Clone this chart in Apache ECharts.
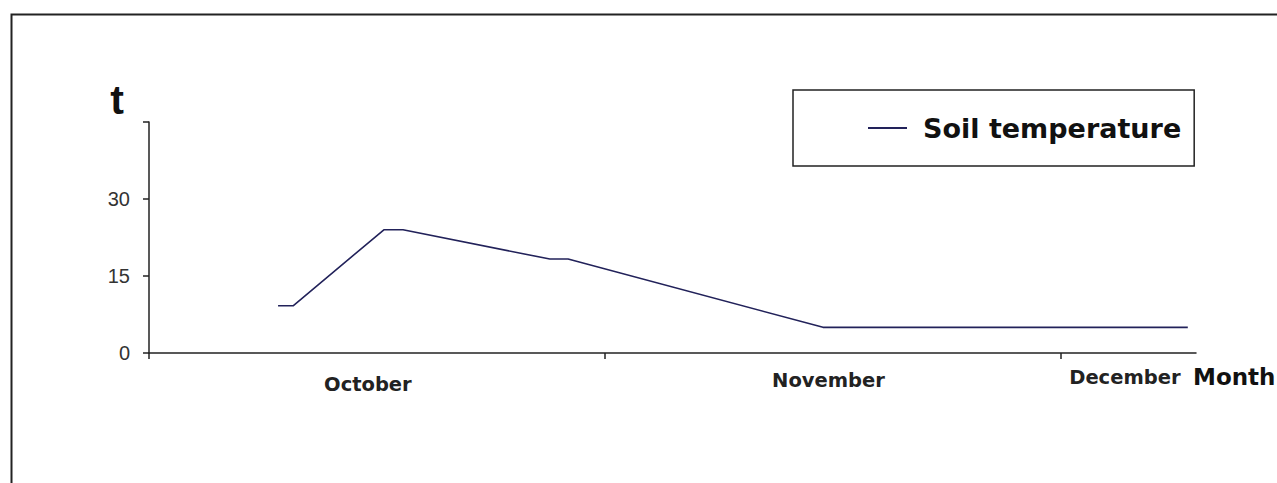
<!DOCTYPE html>
<html>
<head>
<meta charset="utf-8">
<script src="https://cdn.jsdelivr.net/npm/echarts@6/dist/echarts.min.js"></script>
<style>
html,body{margin:0;padding:0;background:#fff;}
#chart{width:1277px;height:483px;}
</style>
</head>
<body>
<div id="chart"></div>
<script>
// ---- data ----
const seriesName = 'Soil temperature';
const xValues = [0.283, 0.316, 0.515, 0.557, 0.879, 0.919, 1.478, 2.278]; // in months from start of October
const tempValues = [9.2, 9.2, 24, 24, 18.3, 18.3, 5, 5];
const monthTicks = [0, 1, 2];
const monthLabels = ['October', 'November', 'December'];
const monthLabelAt = [0.48, 1.49, 2.14];
const yTicks = [0, 15, 30, 45];
const yAxisName = 't';
const xAxisName = 'Month';

const chart = echarts.init(document.getElementById('chart'), null, {renderer: 'svg'});
const axisColor = '#222';
const labelFont = {fontFamily: 'DejaVu Sans', fontWeight: 'bold', fontSize: 19.5, color: '#222'};

const option = {
  backgroundColor: '#fff',
  animation: false,
  graphic: [{
    type: 'rect',
    left: 9, top: 12,
    shape: {width: 1400, height: 600},
    style: {fill: 'none', stroke: '#222', lineWidth: 2},
    silent: true
  }],
  grid: {left: 149, right: 81, top: 122, bottom: 130, containLabel: false},
  legend: {
    data: [seriesName],
    left: 793, top: 90,
    orient: 'horizontal',
    padding: [23, 13, 23, 75],
    icon: 'rect',
    itemWidth: 39, itemHeight: 2,
    borderColor: '#222', borderWidth: 1.5,
    backgroundColor: '#fff',
    textStyle: {
      fontFamily: 'DejaVu Sans', fontWeight: 'bold', fontSize: 27,
      color: '#111', lineHeight: 30, padding: [0, 0, 0, 11]
    }
  },
  xAxis: {
    type: 'value',
    min: 0, max: 2.296,
    name: xAxisName,
    nameLocation: 'end',
    nameGap: -3,
    nameTextStyle: {
      fontFamily: 'DejaVu Sans', fontWeight: 'bold', fontSize: 23, color: '#111',
      align: 'left', verticalAlign: 'top', padding: [12, 0, 0, 0]
    },
    axisLine: {show: true, onZero: false, lineStyle: {color: axisColor, width: 1.5}},
    axisTick: {show: true, inside: false, length: 6, customValues: monthTicks, lineStyle: {color: axisColor, width: 1.5}},
    axisLabel: {
      show: true,
      customValues: monthLabelAt,
      margin: 14,
      rich: {
        m0: Object.assign({padding: [7, 0, 0, 0]}, labelFont),
        m1: Object.assign({padding: [3, 0, 0, 0]}, labelFont),
        m2: Object.assign({padding: [0, 0, 0, 0]}, labelFont)
      },
      formatter: function (v) {
        const i = monthLabelAt.findIndex(p => Math.abs(p - v) < 1e-6);
        return i >= 0 ? '{m' + i + '|' + monthLabels[i] + '}' : '';
      }
    },
    splitLine: {show: false}
  },
  yAxis: {
    type: 'value',
    min: 0, max: 45, interval: 15,
    name: yAxisName,
    nameLocation: 'end',
    nameGap: 2,
    nameTextStyle: {
      fontFamily: 'Liberation Sans', fontWeight: 'bold', fontSize: 41, color: '#111',
      align: 'right', verticalAlign: 'bottom', padding: [0, 25, 0, 0]
    },
    axisLine: {show: true, lineStyle: {color: axisColor, width: 1.5}},
    axisTick: {show: true, inside: false, length: 6, customValues: yTicks, lineStyle: {color: axisColor, width: 1.5}},
    axisLabel: {
      show: true, margin: 19,
      customValues: yTicks.slice(0, 3),
      fontFamily: 'Liberation Sans', fontSize: 20, color: '#333'
    },
    splitLine: {show: false}
  },
  series: [{
    name: seriesName,
    type: 'line',
    data: xValues.map((x, i) => [x, tempValues[i]]),
    symbol: 'none',
    lineStyle: {color: '#22225a', width: 1.6},
    itemStyle: {color: '#22225a'}
  }]
};
chart.setOption(option);
</script>
</body>
</html>
